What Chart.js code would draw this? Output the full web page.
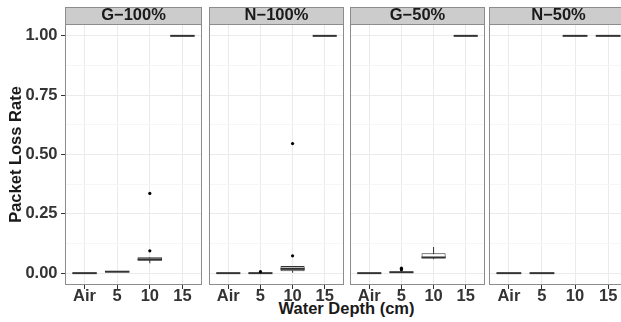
<!DOCTYPE html>
<html>
<head>
<meta charset="utf-8">
<script src="https://cdn.jsdelivr.net/npm/chart.js@4"></script>
<style>
  html, body { margin: 0; padding: 0; background: #fff; overflow: hidden; }
  #wrap { position: relative; width: 621px; height: 322px; overflow: hidden; }
  #wrap canvas { position: absolute; top: 0; }
  #xtitle {
    position: absolute; left: 246px; width: 201px; top: 300px;
    text-align: center; white-space: nowrap;
    font: bold 16.5px "Liberation Sans", Arial, sans-serif; line-height: 17px;
    color: #1a1a1a;
  }
</style>
</head>
<body>
<div id="wrap"><div id="xtitle">Water Depth (cm)</div></div>
<script>
// categories and facets
const depths = ['Air', '5', '10', '15'];
const groups = ['G−100%', 'N−100%', 'G−50%', 'N−50%'];

// box stats per facet (one value per depth)
const lowWhisker = [
  [0, 0.005, 0.042, 1],
  [0, 0, 0, 1],
  [0, 0.003, 0.059, 1],
  [0, 0, 1, 1]
];
const q1 = [
  [0, 0.005, 0.052, 1],
  [0, 0, 0.008, 1],
  [0, 0.003, 0.063, 1],
  [0, 0, 1, 1]
];
const median = [
  [0, 0.006, 0.058, 1],
  [0, 0, 0.018, 1],
  [0, 0.004, 0.066, 1],
  [0, 0, 1, 1]
];
const q3 = [
  [0, 0.007, 0.067, 1],
  [0, 0, 0.030, 1],
  [0, 0.005, 0.084, 1],
  [0, 0, 1, 1]
];
const highWhisker = [
  [0, 0.007, 0.067, 1],
  [0, 0, 0.030, 1],
  [0, 0.005, 0.110, 1],
  [0, 0, 1, 1]
];
// outliers: [depth index, value]
const outliers = [
  [[2, 0.094], [2, 0.336]],
  [[1, 0.006], [2, 0.073], [2, 0.546]],
  [[1, 0.014], [1, 0.021]],
  []
];

const yMajor = [0, 0.25, 0.5, 0.75, 1];
const yMinor = [0.125, 0.375, 0.625, 0.875];

const boxFill = ['#d0d0d0', '#d0d0d0', '#ffffff', '#ffffff'];
const panelLeft = [65, 207, 348, 489];
const panelWidth = 139;
const FONT = '"Liberation Sans", Arial, sans-serif';
const boldFont = { family: FONT, size: 16.5, weight: 'bold' };

const isMajor = v => yMajor.some(m => Math.abs(m - v) < 1e-9);

// strip on top + panel border
const panelFrame = {
  id: 'panelFrame',
  beforeDraw(chart) {
    const { ctx, chartArea: a } = chart;
    ctx.save();
    ctx.fillStyle = '#cccccc';
    ctx.fillRect(a.left, 7, a.right - a.left, a.top - 7);
    ctx.strokeStyle = '#8c8c8c';
    ctx.lineWidth = 1;
    ctx.strokeRect(a.left + 0.5, 7.5, a.right - a.left - 1, a.top - 7);
    ctx.restore();
  },
  afterDatasetsDraw(chart) {
    const { ctx, chartArea: a } = chart;
    ctx.save();
    ctx.strokeStyle = '#8c8c8c';
    ctx.lineWidth = 1;
    ctx.strokeRect(a.left + 0.5, a.top + 0.5, a.right - a.left - 1, a.bottom - a.top - 1);
    ctx.restore();
  }
};

const wrap = document.getElementById('wrap');

groups.forEach((g, p) => {
  const first = p === 0;
  const canvas = document.createElement('canvas');
  const left = first ? 0 : panelLeft[p] - 2;
  const width = first ? panelLeft[0] + panelWidth + 2 : panelWidth + 4;
  canvas.width = width;
  canvas.height = 322;
  canvas.style.left = left + 'px';
  canvas.style.width = width + 'px';
  canvas.style.height = '322px';
  wrap.appendChild(canvas);

  new Chart(canvas.getContext('2d'), {
    type: 'bar',
    data: {
      datasets: [
        {
          label: 'whisker',
          data: depths.map((d, i) => ({ x: i, y: [lowWhisker[p][i], highWhisker[p][i]] })),
          backgroundColor: '#333333',
          maxBarThickness: 1,
          grouped: false,
          order: 4
        },
        {
          label: 'box',
          data: depths.map((d, i) => ({ x: i, y: [q1[p][i], q3[p][i]] })),
          backgroundColor: boxFill[p],
          borderColor: '#333333',
          borderWidth: 1,
          borderSkipped: false,
          barPercentage: 0.75,
          categoryPercentage: 1,
          grouped: false,
          order: 3
        },
        {
          type: 'scatter',
          label: 'median',
          data: depths.map((d, i) => ({ x: i, y: median[p][i] })),
          pointStyle: 'line',
          pointRadius: ctx => {
            const s = ctx.chart.scales.x;
            return 0.375 * (s.getPixelForValue(1) - s.getPixelForValue(0));
          },
          borderColor: '#333333',
          borderWidth: 2,
          order: 2
        },
        {
          type: 'scatter',
          label: 'outlier',
          data: outliers[p].map(([i, v]) => ({ x: i, y: v })),
          pointRadius: 1.6,
          backgroundColor: '#000000',
          borderWidth: 0,
          order: 1
        }
      ]
    },
    options: {
      responsive: false,
      animation: false,
      events: [],
      layout: { padding: { left: first ? 0 : 2, right: 2, top: 0, bottom: 0 } },
      plugins: {
        legend: { display: false },
        tooltip: { enabled: false },
        title: {
          display: true,
          fullSize: false,
          text: g,
          color: '#1a1a1a',
          font: { family: FONT, size: 16.5, weight: 'bold', lineHeight: 1 },
          padding: { top: 7.5, bottom: 0 }
        }
      },
      scales: {
        x: {
          type: 'linear',
          offset: false,
          min: -0.6,
          max: 3.6,
          afterBuildTicks: s => { s.ticks = depths.map((d, i) => ({ value: i })); },
          afterFit: s => { s.height = 37; },
          ticks: {
            callback: v => depths[v],
            color: '#333333',
            font: boldFont,
            padding: -2,
            autoSkip: false,
            maxRotation: 0
          },
          grid: { offset: false, color: '#ebebeb', lineWidth: 1, tickLength: 4, tickColor: '#333333' },
          border: { display: false }
        },
        y: {
          min: -0.05,
          max: 1.05,
          afterBuildTicks: s => {
            s.ticks = yMajor.concat(yMinor).sort((a, b) => a - b).map(v => ({ value: v }));
          },
          afterFit: s => { s.width = first ? panelLeft[0] : 0; },
          ticks: {
            display: first,
            callback: v => isMajor(v) ? v.toFixed(2) : '',
            color: '#333333',
            font: boldFont,
            padding: 3.5
          },
          grid: {
            color: c => isMajor(c.tick.value) ? '#ebebeb' : '#f6f6f6',
            tickColor: c => isMajor(c.tick.value) ? '#333333' : 'rgba(0,0,0,0)',
            tickLength: 4,
            drawTicks: first
          },
          border: { display: false },
          title: {
            display: first,
            text: 'Packet Loss Rate',
            color: '#1a1a1a',
            font: boldFont,
            padding: { top: 7, bottom: 0 }
          }
        }
      }
    },
    plugins: [panelFrame]
  });
});
</script>
</body>
</html>
